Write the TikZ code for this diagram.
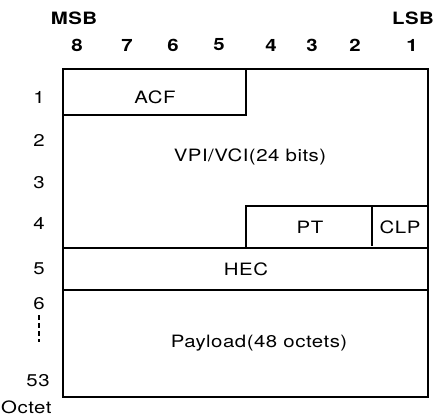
\documentclass[tikz,border=0pt]{standalone}
\usepackage{fontspec}
\setmainfont{TeX Gyre Heros}[FakeStretch=1.2,LetterSpace=3]
\begin{document}
\begin{tikzpicture}[x=1pt,y=-1pt,
  lbl/.style={inner sep=0pt,font=\fontsize{17}{20}\selectfont},
  hdr/.style={lbl,font=\fontsize{17}{20}\selectfont\bfseries},
  thick line/.style={line width=2.6pt},
  thin line/.style={line width=1.5pt}]
\useasboundingbox (0,0) rectangle (443,417);
% header
\node[hdr] (msb) at (74,18) {MSB};
\node[hdr] (lsb) at (413,18) {LSB};
\foreach \b/\x in {8/77,7/127,6/173,5/219,4/271,3/312,2/355,1/412}
  \node[hdr] (bit\b) at (\x,45) {\b};
% row labels
\foreach \r/\y in {1/97,2/140,3/183,4/223,5/269,6/304}
  \node[lbl] (row\r) at (39,\y) {\r};
\node[lbl] (row53) at (38,381) {53};
\node[lbl, anchor=west] (octet) at (1,407) {Octet};
\coordinate (da) at (39,315);
\coordinate (db) at (39,342);
\draw[thin line, dash pattern=on 5pt off 3pt] (da) -- (db);
% corners
\coordinate (tl) at (63,69);
\coordinate (br) at (428,397);
% inner lines
\draw[thin line] (63,115) -- (246,115) -- (246,69);
\draw[thin line] (246,248) -- (246,206) -- (428,206);
\draw[thin line] (372,206) -- (372,246);
\draw[thick line] (63,248) -- (428,248);
\draw[thick line] (63,290) -- (428,290);
\draw[thick line] (tl) rectangle (br);
% field labels
\node[lbl] (acf) at (155,97) {ACF};
\node[lbl] (vpi) at (250,157) {VPI/VCI(24 bits)};
\node[lbl] (pt) at (310,227) {PT};
\node[lbl] (clp) at (400,227) {CLP};
\node[lbl] (hec) at (246,269) {HEC};
\node[lbl] (pay) at (259,343) {Payload(48 octets)};
\end{tikzpicture}
\end{document}
